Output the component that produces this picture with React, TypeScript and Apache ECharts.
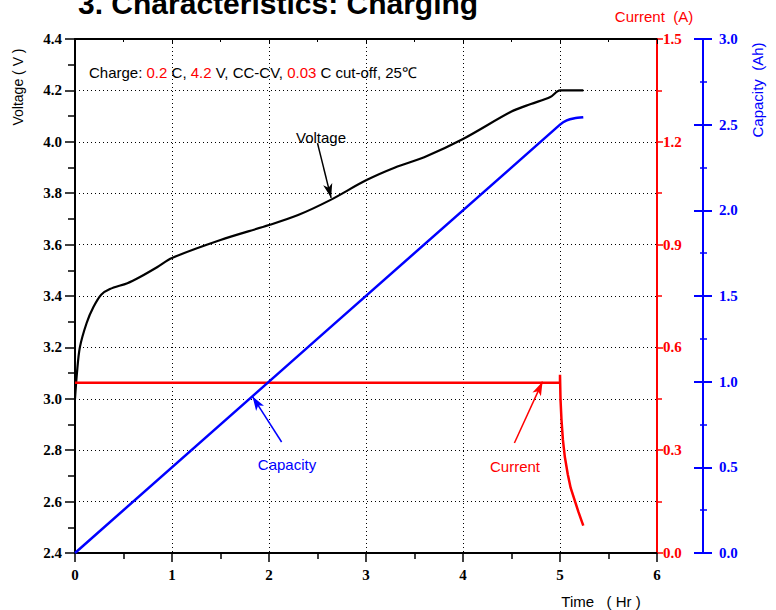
import React, { useEffect, useRef } from "react";
import * as echarts from "echarts";

const timeTicks = [0, 1, 2, 3, 4, 5, 6];
const voltageData: number[][] = [
  [0, 3.0], [0.02, 3.1], [0.05, 3.2], [0.12, 3.295], [0.19, 3.357], [0.27, 3.405],
  [0.36, 3.427], [0.54, 3.45], [0.67, 3.474], [0.85, 3.513], [1.0, 3.548], [1.5, 3.618],
  [2.0, 3.676], [2.3, 3.715], [2.63, 3.773], [3.0, 3.85], [3.3, 3.9], [3.6, 3.94],
  [4.0, 4.011], [4.5, 4.118], [4.7, 4.147], [4.9, 4.174], [5.0, 4.2], [5.24, 4.2],
];
const currentData: number[][] = [
  [0, 0.497], [5.0, 0.497], [5.0, 0.52], [5.005, 0.45], [5.015, 0.39], [5.03, 0.33],
  [5.05, 0.28], [5.08, 0.23], [5.11, 0.19], [5.15, 0.155], [5.19, 0.12], [5.24, 0.08],
];
const capacityData: number[][] = [
  [0, 0], [5.0, 2.5], [5.07, 2.525], [5.15, 2.537], [5.24, 2.543],
];
const voltageRange = [2.4, 4.4, 0.2];
const currentRange = [0, 1.5, 0.3];
const capacityRange = [0, 3.0, 0.5];

const serif = "Liberation Serif";
const sans = "Liberation Sans";

export default function App() {
  const ref = useRef<HTMLDivElement>(null);
  useEffect(() => {
    if (!ref.current) return;
    const chart = echarts.init(ref.current, undefined, { renderer: "svg" });
    const tickLabel = (color: string) => ({
      color,
      fontFamily: serif,
      fontWeight: "bold" as const,
      fontSize: 15,
    });
    const arrowLine = (color: string, from: number[], to: number[]) => ({
      silent: true,
      animation: false,
      label: { show: false },
      lineStyle: { color, width: 1.5, type: "solid" as const },
      data: [[
        { coord: from, symbol: "none" },
        { coord: to, symbol: "arrow", symbolSize: [7, 14] },
      ]],
    });
    const label = (text: string, x: number, y: number, color: string, fontSize = 15, rotation = 0) => ({
      type: "text",
      x,
      y,
      rotation,
      style: { text, fontFamily: sans, fontSize, fill: color, align: "center", verticalAlign: "middle" },
    });
    chart.setOption({
      animation: false,
      backgroundColor: "#fff",
      grid: { left: 75, right: 119, top: 39, bottom: 57, containLabel: false },
      xAxis: [
        {
          type: "value",
          min: timeTicks[0],
          max: timeTicks[timeTicks.length - 1],
          interval: 1,
          axisLine: { show: true, onZero: false, lineStyle: { color: "#000", width: 2 } },
          axisTick: { show: true, inside: false, length: 9, lineStyle: { color: "#000", width: 1.5 } },
          minorTick: { show: true, splitNumber: 2, length: 6, lineStyle: { color: "#000", width: 1.5 } },
          axisLabel: { ...tickLabel("#000"), margin: 14, formatter: (v: number) => String(v) },
          splitLine: { show: true, lineStyle: { color: "#000", type: [1, 3], width: 1 } },
        },
        {
          type: "value",
          position: "top",
          min: timeTicks[0],
          max: timeTicks[timeTicks.length - 1],
          interval: 1,
          axisLine: { show: true, onZero: false, lineStyle: { color: "#000", width: 2 } },
          axisTick: { show: true, inside: true, length: 5, lineStyle: { color: "#000" } },
          minorTick: { show: true, splitNumber: 2, length: 3, lineStyle: { color: "#000" } },
          axisLabel: { show: false },
          splitLine: { show: false },
        },
      ],
      yAxis: [
        {
          type: "value",
          position: "left",
          min: voltageRange[0],
          max: voltageRange[1],
          interval: voltageRange[2],
          axisLine: { show: true, onZero: false, lineStyle: { color: "#000", width: 2 } },
          axisTick: { show: true, length: 10, lineStyle: { color: "#000", width: 1.5 } },
          minorTick: { show: true, splitNumber: 2, length: 7, lineStyle: { color: "#000", width: 1.5 } },
          axisLabel: { ...tickLabel("#000"), margin: 13, formatter: (v: number) => v.toFixed(1) },
          splitLine: { show: true, lineStyle: { color: "#000", type: [1, 3], width: 1 } },
        },
        {
          type: "value",
          position: "right",
          offset: 0,
          min: currentRange[0],
          max: currentRange[1],
          interval: currentRange[2],
          axisLine: { show: true, onZero: false, lineStyle: { color: "#ff0000", width: 2 } },
          axisTick: { show: true, length: 6, lineStyle: { color: "#ff0000", width: 1.5 } },
          minorTick: { show: true, splitNumber: 2, length: 5, lineStyle: { color: "#ff0000", width: 1.5 } },
          axisLabel: { ...tickLabel("#ff0000"), margin: 6, formatter: (v: number) => v.toFixed(1) },
          splitLine: { show: false },
        },
        {
          type: "value",
          position: "right",
          offset: 46,
          min: capacityRange[0],
          max: capacityRange[1],
          interval: capacityRange[2],
          axisLine: { show: true, onZero: false, lineStyle: { color: "#0000ff", width: 2 } },
          axisTick: { show: true, length: 9, lineStyle: { color: "#0000ff", width: 2 } },
          minorTick: { show: true, splitNumber: 2, length: 4, lineStyle: { color: "#0000ff", width: 1.5 } },
          axisLabel: { ...tickLabel("#0000ff"), margin: 16, formatter: (v: number) => v.toFixed(1) },
          splitLine: { show: false },
        },
        {
          type: "value",
          position: "right",
          offset: 46,
          min: capacityRange[0],
          max: capacityRange[1],
          interval: capacityRange[2],
          axisLine: { show: false, onZero: false },
          axisTick: { show: true, inside: true, length: 9, lineStyle: { color: "#0000ff", width: 2 } },
          minorTick: { show: true, splitNumber: 2, length: 3, lineStyle: { color: "#0000ff", width: 1.5 } },
          axisLabel: { show: false },
          splitLine: { show: false },
        },
      ],
      series: [
        {
          name: "Voltage",
          type: "line",
          xAxisIndex: 0,
          yAxisIndex: 0,
          data: voltageData,
          showSymbol: false,
          smooth: 0.3,
          lineStyle: { color: "#000", width: 2.2 },
          markLine: arrowLine("#000", [2.5, 3.995], [2.64, 3.782]),
        },
        {
          name: "Current",
          type: "line",
          xAxisIndex: 0,
          yAxisIndex: 1,
          data: currentData,
          showSymbol: false,
          lineStyle: { color: "#ff0000", width: 2.5 },
          markLine: arrowLine("#ff0000", [4.53, 0.321], [4.82, 0.5]),
        },
        {
          name: "Capacity",
          type: "line",
          xAxisIndex: 0,
          yAxisIndex: 2,
          data: capacityData,
          showSymbol: false,
          smooth: 0.2,
          lineStyle: { color: "#0000ff", width: 2.5 },
          markLine: arrowLine("#0000ff", [2.13, 0.648], [1.83, 0.913]),
        },
      ],
      graphic: [
        {
          type: "text",
          left: 78,
          top: -12,
          style: {
            text: "3. Characteristics: Charging",
            fontFamily: sans,
            fontWeight: "bold",
            fontSize: 30,
            fill: "#000",
          },
        },
        {
          type: "text",
          x: 89,
          y: 72,
          style: {
            text: "{a|Charge: }{r|0.2}{a| C, }{r|4.2}{a| V, CC-CV, }{r|0.03}{a| C cut-off, 25℃}",
            verticalAlign: "middle",
            rich: {
              a: { fontFamily: sans, fontSize: 15, fill: "#000" },
              r: { fontFamily: sans, fontSize: 15, fill: "#ff0000" },
            },
          },
        },
        label("Voltage ( V )", 18, 87, "#000", 14, Math.PI / 2),
        label("Capacity  (Ah)", 757, 90, "#0000ff", 15, Math.PI / 2),
        label("Current  (A)", 654, 16, "#ff0000", 15),
        label("Time   ( Hr )", 601, 601, "#000", 15),
        label("Voltage", 321, 137, "#000"),
        label("Capacity", 287, 464, "#0000ff"),
        label("Current", 515, 466, "#ff0000"),
      ],
    });
    return () => chart.dispose();
  }, []);
  return <div ref={ref} style={{ position: "absolute", left: 0, top: 0, width: 776, height: 610 }} />;
}
